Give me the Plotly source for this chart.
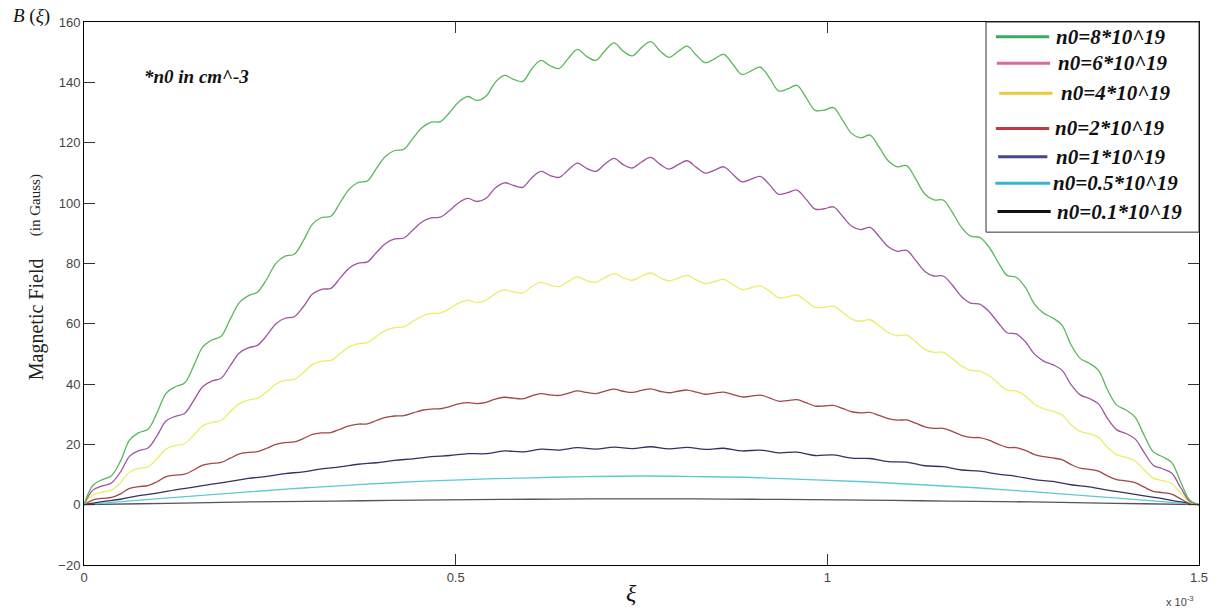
import plotly.graph_objects as go

## data: B(xi) in Gauss, xi in units of 10^-3
## the four big curves are sampled every quarter ripple (122 steps over 0..1.5)
b_n8 = [0, 6.5, 8.3, 9.6, 14.5, 21.5, 23.9, 25.0, 30.5, 37.0, 39.1, 40.3, 46.0, 52.3, 54.6, 55.8,
        61.5, 67.0, 69.3, 70.5, 74.8, 80.0, 82.4, 83.0, 87.5, 93.0, 95.2, 95.6, 100.0, 104.5, 106.8,
        107.3, 111.5, 115.5, 117.4, 117.8, 121.5, 125.0, 126.8, 127.0, 130.0, 133.5, 135.3, 134.0,
        135.5, 140.0, 142.3, 141.0, 140.3, 144.5, 147.3, 145.5, 144.6, 148.0, 150.9, 148.6, 147.3,
        150.5, 153.1, 150.3, 148.8, 151.5, 153.5, 150.5, 148.3, 150.2, 152.0, 149.0, 146.5, 147.8,
        149.3, 146.0, 142.6, 143.8, 145.0, 141.5, 137.2, 137.8, 139.0, 135.0, 130.7, 130.8, 131.6,
        127.5, 123.0, 121.6, 122.5, 118.5, 114.0, 112.0, 112.4, 108.0, 103.0, 101.0, 101.0, 97.0,
        92.0, 89.0, 88.6, 85.5, 80.5, 76.0, 75.4, 72.0, 66.5, 63.5, 61.9, 59.5, 53.0, 48.5, 46.9,
        44.5, 38.0, 33.0, 31.4, 29.0, 23.0, 17.5, 15.9, 14.0, 7.5, 1.5, 0]
b_n6 = [0, 4.9, 6.2, 7.2, 10.9, 16.1, 17.9, 18.8, 22.9, 27.8, 29.3, 30.2, 34.5, 39.2, 41.0, 41.9,
        46.1, 50.3, 52.0, 52.9, 56.1, 60.0, 61.8, 62.3, 65.6, 69.8, 71.4, 71.7, 75.0, 78.4, 80.1,
        80.5, 83.6, 86.6, 88.1, 88.4, 91.1, 93.8, 95.1, 95.3, 97.5, 100.1, 101.5, 100.5, 101.6,
        105.0, 106.7, 105.8, 105.2, 108.4, 110.5, 109.1, 108.5, 111.0, 113.2, 111.5, 110.5, 112.9,
        114.8, 112.7, 111.6, 113.6, 115.1, 112.9, 111.2, 112.7, 114.0, 111.8, 109.9, 110.9, 112.0,
        109.5, 107.0, 107.9, 108.8, 106.1, 102.9, 103.4, 104.3, 101.3, 98.0, 98.1, 98.7, 95.6, 92.3,
        91.2, 91.9, 88.9, 85.5, 84.0, 84.3, 81.0, 77.3, 75.8, 75.8, 72.8, 69.0, 66.8, 66.5, 64.1,
        60.4, 57.0, 56.6, 54.0, 49.9, 47.6, 46.4, 44.6, 39.8, 36.4, 35.2, 33.4, 28.5, 24.8, 23.6,
        21.8, 17.3, 13.1, 11.9, 10.5, 5.6, 1.1, 0]
b_n4 = [0, 3.3, 4.2, 4.8, 7.3, 10.8, 12.0, 12.5, 15.3, 18.5, 19.6, 20.2, 23.0, 26.2, 27.3, 27.9,
        30.8, 33.5, 34.7, 35.3, 37.4, 40.0, 41.2, 41.5, 43.8, 46.5, 47.6, 47.8, 50.0, 52.3, 53.4,
        53.7, 55.8, 57.8, 58.7, 58.9, 60.8, 62.5, 63.4, 63.5, 65.0, 66.8, 67.7, 67.0, 67.8, 70.0,
        71.2, 70.5, 70.2, 72.3, 73.7, 72.8, 72.3, 74.0, 75.5, 74.3, 73.7, 75.3, 76.6, 75.2, 74.4,
        75.8, 76.8, 75.3, 74.2, 75.1, 76.0, 74.5, 73.3, 73.9, 74.7, 73.0, 71.3, 71.9, 72.5, 70.8,
        68.6, 68.9, 69.5, 67.5, 65.4, 65.4, 65.8, 63.8, 61.5, 60.8, 61.3, 59.3, 57.0, 56.0, 56.2,
        54.0, 51.5, 50.5, 50.5, 48.5, 46.0, 44.5, 44.3, 42.8, 40.3, 38.0, 37.7, 36.0, 33.3, 31.8,
        31.0, 29.8, 26.5, 24.3, 23.5, 22.3, 19.0, 16.5, 15.7, 14.5, 11.5, 8.8, 8.0, 7.0, 3.8, 0.8, 0]
b_n2 = [0, 1.6, 2.1, 2.4, 3.6, 5.4, 6.0, 6.3, 7.6, 9.3, 9.8, 10.1, 11.5, 13.1, 13.7, 14.0, 15.4,
        16.8, 17.3, 17.6, 18.7, 20.0, 20.6, 20.8, 21.9, 23.3, 23.8, 23.9, 25.0, 26.1, 26.7, 26.8,
        27.9, 28.9, 29.4, 29.5, 30.4, 31.3, 31.7, 31.8, 32.5, 33.4, 33.8, 33.5, 33.9, 35.0, 35.6,
        35.3, 35.1, 36.1, 36.8, 36.4, 36.2, 37.0, 37.7, 37.2, 36.8, 37.6, 38.3, 37.6, 37.2, 37.9,
        38.4, 37.6, 37.1, 37.6, 38.0, 37.3, 36.6, 37.0, 37.3, 36.5, 35.7, 36.0, 36.3, 35.4, 34.3,
        34.5, 34.8, 33.8, 32.7, 32.7, 32.9, 31.9, 30.8, 30.4, 30.6, 29.6, 28.5, 28.0, 28.1, 27.0,
        25.8, 25.3, 25.3, 24.3, 23.0, 22.3, 22.2, 21.4, 20.1, 19.0, 18.9, 18.0, 16.6, 15.9, 15.5,
        14.9, 13.3, 12.1, 11.7, 11.1, 9.5, 8.3, 7.9, 7.3, 5.8, 4.4, 4.0, 3.5, 1.9, 0.4, 0]
## n0=1: sampled every half ripple (61 steps)
b_n1 = [0, 1.0, 1.8, 3.0, 3.8, 4.9, 5.8, 6.8, 7.7, 8.7, 9.4, 10.3, 10.9, 11.9, 12.5, 13.4, 13.9,
        14.7, 15.2, 15.9, 16.3, 16.9, 16.9, 17.8, 17.5, 18.4, 18.1, 18.9, 18.4, 19.1, 18.6, 19.2,
        18.5, 19.0, 18.3, 18.7, 17.8, 18.1, 17.2, 17.4, 16.3, 16.5, 15.4, 15.3, 14.3, 14.1, 12.9,
        12.6, 11.5, 11.1, 10.1, 9.4, 8.3, 7.7, 6.6, 5.9, 4.8, 3.9, 2.9, 2.0, 0.9, 0]
## n0=0.5 and n0=0.1: ripple too small to see, 20 steps
b_n05 = [0, 1.5, 2.9, 4.3, 5.6, 6.7, 7.7, 8.4, 8.9, 9.3, 9.5, 9.3, 9.0, 8.3, 7.6, 6.6, 5.6, 4.3,
         2.9, 1.5, 0]
b_n01 = [0, 0.3, 0.6, 0.9, 1.1, 1.3, 1.5, 1.7, 1.8, 1.9, 1.9, 1.9, 1.8, 1.7, 1.5, 1.3, 1.1, 0.9,
         0.6, 0.3, 0]

labels = ["n0=8*10^19", "n0=6*10^19", "n0=4*10^19", "n0=2*10^19",
          "n0=1*10^19", "n0=0.5*10^19", "n0=0.1*10^19"]
series = [b_n8, b_n6, b_n4, b_n2, b_n1, b_n05, b_n01]

x_tick_vals = [0, 0.5, 1, 1.5]
x_tick_text = ["0", "0.5", "1", "1.5"]
y_tick_vals = [-20, 0, 20, 40, 60, 80, 100, 120, 140, 160]

## styles
line_colors = ["#5ab85a", "#a0559f", "#ecec6a", "#a04848", "#33335e", "#5ccad2", "#555555"]
key_colors = ["#3aaa62", "#d86a9e", "#e8c83c", "#c03a44", "#45468f", "#36b4d4", "#111111"]

fig = go.Figure()
for vals, lab, col in zip(series[::-1], labels[::-1], line_colors[::-1]):
    fig.add_trace(go.Scatter(
        x0=0, dx=1.5 / (len(vals) - 1), y=vals, name=lab, mode="lines",
        line=dict(color=col, width=1.3, shape="spline", smoothing=1.0),
        hoverinfo="skip"))

## hand-made legend box (the original one is pasted on top of the axes)
fig.add_shape(type="rect", xref="paper", yref="paper", x0=0.809, x1=1.0, y0=0.613, y1=1.0,
              line=dict(color="#333", width=1), fillcolor="white", layer="above")
key_y = [0.973, 0.924, 0.869, 0.804, 0.752, 0.703, 0.651]
key_x0 = [0.8178, 0.8187, 0.8208, 0.8178, 0.8199, 0.8173, 0.8193]
key_x1 = [0.8656, 0.8665, 0.8685, 0.8656, 0.8640, 0.8665, 0.8670]
text_x = [0.8700, 0.8715, 0.8745, 0.8694, 0.8700, 0.8670, 0.8706]
for i, lab in enumerate(labels):
    fig.add_shape(type="line", xref="paper", yref="paper", x0=key_x0[i], x1=key_x1[i],
                  y0=key_y[i], y1=key_y[i], line=dict(color=key_colors[i], width=3),
                  layer="above")
    fig.add_annotation(xref="paper", yref="paper", x=text_x[i], y=key_y[i], text=lab,
                       showarrow=False, xanchor="left", yanchor="middle",
                       font=dict(family="Liberation Serif", size=21, color="#111",
                                 weight="bold", style="italic"))

serif = "Liberation Serif"
fig.add_annotation(xref="paper", yref="paper", x=0.0516, y=0.899, text="*n0 in cm^-3",
                   showarrow=False, xanchor="left", yanchor="middle",
                   font=dict(family=serif, size=19, color="#111", weight="bold", style="italic"))
fig.add_annotation(xref="paper", yref="paper", x=-0.0653, y=1.011,
                   text="<i>B</i> (<i>ξ</i>)", showarrow=False, xanchor="left", yanchor="middle",
                   font=dict(family=serif, size=19, color="#111"))
fig.add_annotation(xref="paper", yref="paper", x=-0.0429, y=0.453, text="Magnetic Field",
                   textangle=-90, showarrow=False, xanchor="center", yanchor="middle",
                   font=dict(family=serif, size=20, color="#222"))
fig.add_annotation(xref="paper", yref="paper", x=-0.0429, y=0.663, text="(in Gauss)",
                   textangle=-90, showarrow=False, xanchor="center", yanchor="middle",
                   font=dict(family=serif, size=15, color="#222"))
fig.add_annotation(xref="paper", yref="paper", x=0.491, y=-0.052, text="<i>ξ</i>",
                   showarrow=False, xanchor="center", yanchor="middle",
                   font=dict(family=serif, size=24, color="#111"))
fig.add_annotation(xref="paper", yref="paper", x=0.983, y=-0.066, text="x 10<sup>-3</sup>",
                   showarrow=False, xanchor="center", yanchor="middle",
                   font=dict(family="Liberation Sans", size=11, color="#444"))

axis_font = dict(family="Liberation Sans", size=13, color="#444")
fig.update_xaxes(range=[0, 1.5], tickvals=x_tick_vals, ticktext=x_tick_text, ticks="inside",
                 ticklen=11, tickcolor="#333", showline=True, linecolor="black", linewidth=1,
                 mirror="ticks", showgrid=False, zeroline=False, tickfont=axis_font)
fig.update_yaxes(range=[-20, 160], tickvals=y_tick_vals, ticks="inside", ticklen=11,
                 tickcolor="#333", showline=True, linecolor="black", linewidth=1,
                 mirror="ticks", showgrid=False, zeroline=False, tickfont=axis_font)
fig.update_layout(width=1220, height=611, margin=dict(l=84, r=18, t=22, b=46),
                  paper_bgcolor="white", plot_bgcolor="white", showlegend=False,
                  hovermode=False)

## page body has an 8px default margin; drop it so the figure sits at the corner
fig.write_html("out.html", config={"displayModeBar": False},
               post_script="document.body.style.margin='0px';")
